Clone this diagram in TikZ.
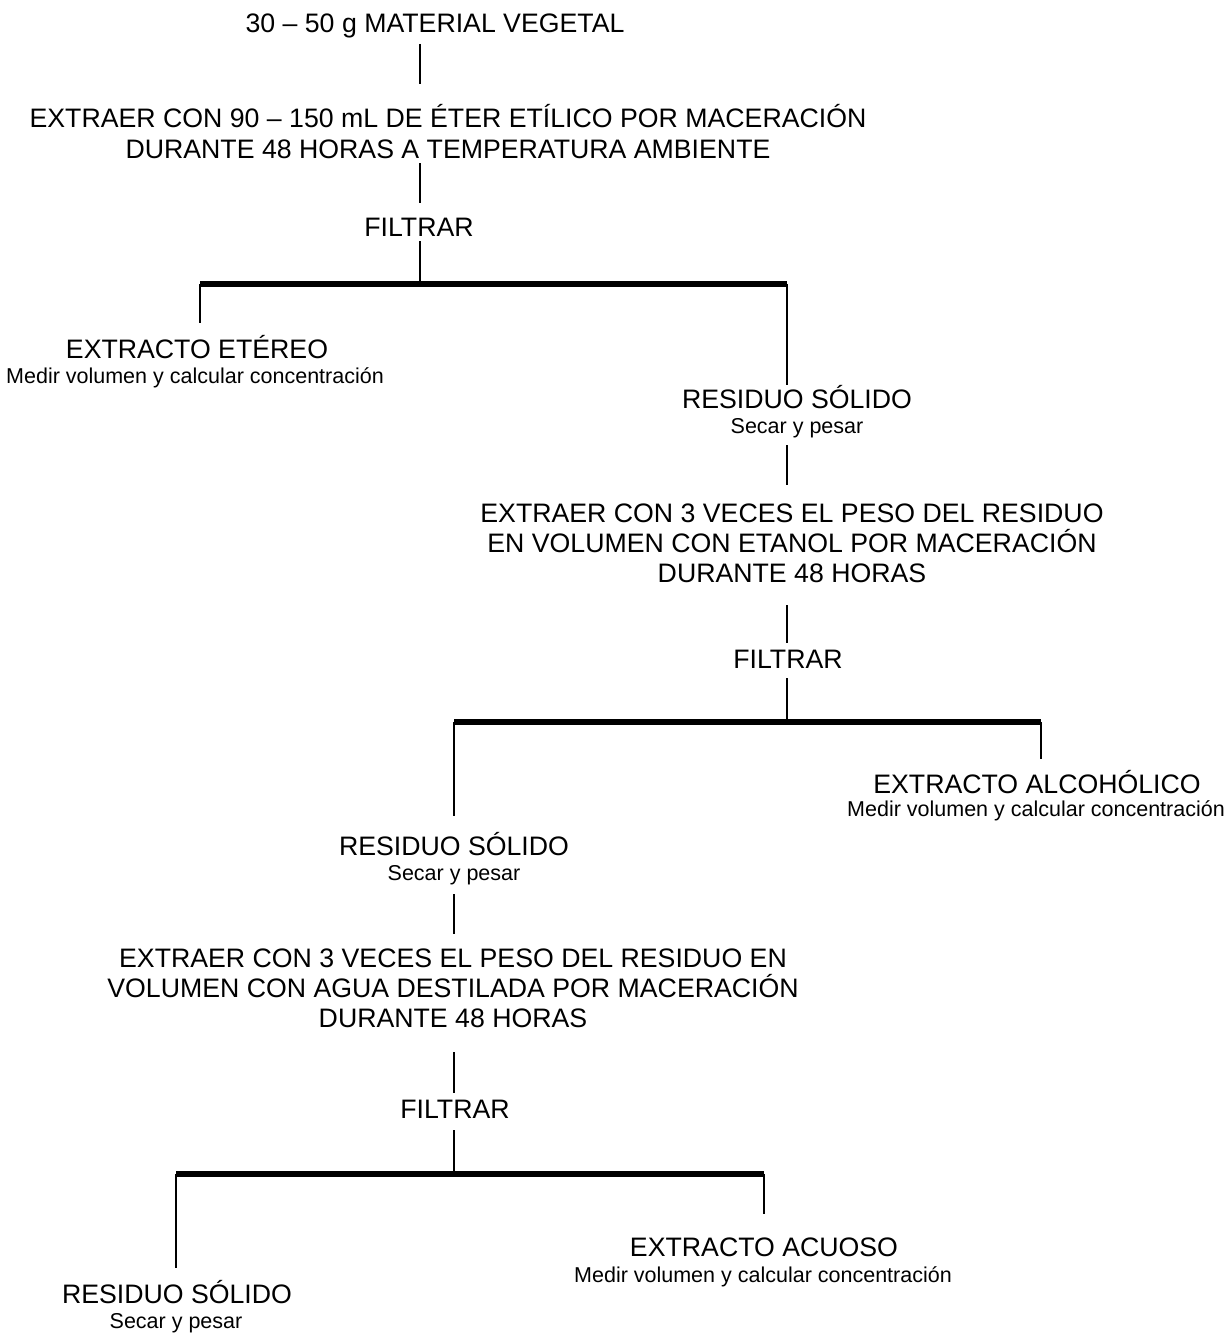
\documentclass[tikz,border=0pt]{standalone}
\usepackage{fontspec}
\setmainfont{Liberation Sans}
\begin{document}
\begin{tikzpicture}[x=1pt,y=-1pt,
  big/.style={font=\fontsize{26.7}{30}\selectfont, anchor=base, inner sep=0pt},
  small/.style={font=\fontsize{21.5}{25}\selectfont, anchor=base, inner sep=0pt},
  conn/.style={line width=1.5pt},
  bar/.style={line width=6pt}]
\useasboundingbox[fill=white] (0,0) rectangle (1228,1335);

% texts
\node[big] (title) at (435,33) {30 – 50 g MATERIAL VEGETAL};
\node[big] (ext1a) at (448,128) {EXTRAER CON 90 – 150 mL DE ÉTER ETÍLICO POR MACERACIÓN};
\node[big] (ext1b) at (448,158) {DURANTE 48 HORAS A TEMPERATURA AMBIENTE};
\node[big] (fil1) at (419,236) {FILTRAR};
\node[big] (eter) at (197,358) {EXTRACTO ETÉREO};
\node[small] (eters) at (195,383) {Medir volumen y calcular concentración};
\node[big] (res1) at (797,408) {RESIDUO SÓLIDO};
\node[small] (res1s) at (797,433) {Secar y pesar};
\node[big] (ext2a) at (792,522) {EXTRAER CON 3 VECES EL PESO DEL RESIDUO};
\node[big] (ext2b) at (792,552) {EN VOLUMEN CON ETANOL POR MACERACIÓN};
\node[big] (ext2c) at (792,582) {DURANTE 48 HORAS};
\node[big] (fil2) at (788,668) {FILTRAR};
\node[big] (alc) at (1037,793) {EXTRACTO ALCOHÓLICO};
\node[small] (alcs) at (1036,816) {Medir volumen y calcular concentración};
\node[big] (res2) at (454,855) {RESIDUO SÓLIDO};
\node[small] (res2s) at (454,880) {Secar y pesar};
\node[big] (ext3a) at (453,967) {EXTRAER CON 3 VECES EL PESO DEL RESIDUO EN};
\node[big] (ext3b) at (453,997) {VOLUMEN CON AGUA DESTILADA POR MACERACIÓN};
\node[big] (ext3c) at (453,1027) {DURANTE 48 HORAS};
\node[big] (fil3) at (455,1118) {FILTRAR};
\node[big] (acu) at (764,1256) {EXTRACTO ACUOSO};
\node[small] (acus) at (763,1282) {Medir volumen y calcular concentración};
\node[big] (res3) at (177,1303) {RESIDUO SÓLIDO};
\node[small] (res3s) at (176,1328) {Secar y pesar};

% connector end points
\coordinate (t1a) at (420,44);   \coordinate (t1b) at (420,84);
\coordinate (t1c) at (420,163);  \coordinate (t1d) at (420,203);
\coordinate (t1e) at (420,241);  \coordinate (t1f) at (420,284);
\coordinate (b1l) at (200,284);  \coordinate (b1r) at (787,284);
\coordinate (d1l) at (200,323);  \coordinate (d1r) at (787,385);
\coordinate (t2a) at (787,445);  \coordinate (t2b) at (787,485);
\coordinate (t2c) at (787,605);  \coordinate (t2d) at (787,643);
\coordinate (t2e) at (787,678);  \coordinate (t2f) at (787,722);
\coordinate (b2l) at (454,722);  \coordinate (b2r) at (1041,722);
\coordinate (d2l) at (454,816);  \coordinate (d2r) at (1041,759);
\coordinate (t3a) at (454,894);  \coordinate (t3b) at (454,934);
\coordinate (t3c) at (454,1052); \coordinate (t3d) at (454,1093);
\coordinate (t3e) at (454,1130); \coordinate (t3f) at (454,1174);
\coordinate (b3l) at (176,1174); \coordinate (b3r) at (764,1174);
\coordinate (d3l) at (176,1268); \coordinate (d3r) at (764,1214);

% connectors
\draw[conn] (t1a) -- (t1b);
\draw[conn] (t1c) -- (t1d);
\draw[conn] (t1e) -- (t1f);
\draw[bar] (b1l) -- (b1r);
\draw[conn] (b1l) -- (d1l);
\draw[conn] (b1r) -- (d1r);
\draw[conn] (t2a) -- (t2b);
\draw[conn] (t2c) -- (t2d);
\draw[conn] (t2e) -- (t2f);
\draw[bar] (b2l) -- (b2r);
\draw[conn] (b2l) -- (d2l);
\draw[conn] (b2r) -- (d2r);
\draw[conn] (t3a) -- (t3b);
\draw[conn] (t3c) -- (t3d);
\draw[conn] (t3e) -- (t3f);
\draw[bar] (b3l) -- (b3r);
\draw[conn] (b3l) -- (d3l);
\draw[conn] (b3r) -- (d3r);
\end{tikzpicture}
\end{document}
